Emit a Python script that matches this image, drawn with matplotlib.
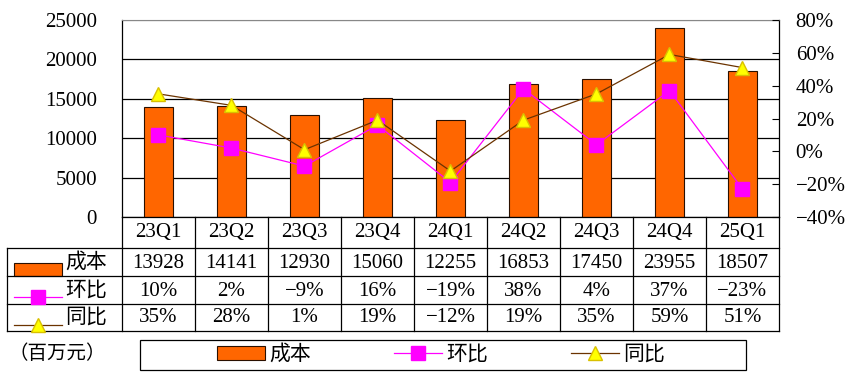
import matplotlib
matplotlib.use("Agg")
import matplotlib.pyplot as plt
import matplotlib.transforms as mtransforms
from matplotlib.lines import Line2D
from matplotlib.patches import Rectangle, Patch

plt.rcParams['font.family'] = ['Liberation Serif', 'Noto Sans CJK SC']
plt.rcParams['font.size'] = 15

quarters = ['23Q1', '23Q2', '23Q3', '23Q4', '24Q1', '24Q2', '24Q3', '24Q4', '25Q1']
cost = [13928, 14141, 12930, 15060, 12255, 16853, 17450, 23955, 18507]
qoq = [10, 2, -9, 16, -19, 38, 4, 37, -23]    # 环比 %
yoy = [35, 28, 1, 19, -12, 19, 35, 59, 51]    # 同比 %

W, H = 854, 392
BAR_C = '#FF6600'
QOQ_C = '#FF00FF'
YOY_C = '#6B3300'
TRI_C = '#FFFF00'
TRI_MS = 10


def fx(px):
    return px / W


def fy(py):
    return 1 - py / H


def pct(v):
    return f'{v:.0f}%'.replace('-', '\u2212')


fig = plt.figure(figsize=(W / 100, H / 100), dpi=100)
ax = fig.add_axes([fx(122), fy(217), fx(779 - 122), (217 - 20) / H])

x = list(range(len(quarters)))
ax.bar(x, cost, width=0.4, color=BAR_C, edgecolor='#2a1000', lw=0.8, zorder=2)
ax.set_xlim(-0.5, len(quarters) - 0.5)
ax.set_ylim(0, 25000)
ax.set_yticks(range(0, 25001, 5000))
ax.set_xticks([])
ax.yaxis.grid(True, color='black', lw=0.9)
ax.get_ygridlines()[-1].set_color('#888888')
ax.set_axisbelow(True)
ax.tick_params(axis='y', length=0, pad=18, labelsize=15)
ax.spines['top'].set_color('#888888')
for s in ['left', 'bottom', 'right']:
    ax.spines[s].set_color('black')
    ax.spines[s].set_linewidth(0.9)

ax2 = ax.twinx()
ax2.plot(x, qoq, color=QOQ_C, lw=0.9, marker='s', ms=10, mfc=QOQ_C, mec=QOQ_C, zorder=3)
ax2.plot(x, yoy, color=YOY_C, lw=0.9, marker='^', ms=TRI_MS, mfc=TRI_C, mec='#D9C000', zorder=4)
ax2.set_ylim(-40, 80)
ax2.set_yticks(range(-40, 81, 20))
ax2.set_yticklabels([pct(v) for v in range(-40, 81, 20)])
ax2.tick_params(axis='y', direction='in', length=5, pad=12, labelsize=15, color='black')
for s in ax2.spines.values():
    s.set_visible(False)

# data table under the chart
bt = mtransforms.blended_transform_factory(ax.transData, fig.transFigure)
ft = fig.transFigure
lw = 0.9
row_y = [217, 248, 276, 304, 331]
fig.add_artist(Line2D([fx(7), fx(779)], [fy(248), fy(248)], color='black', lw=lw, transform=ft))
for yy in row_y[2:]:
    fig.add_artist(Line2D([fx(7), fx(779)], [fy(yy), fy(yy)], color='black', lw=lw, transform=ft))
fig.add_artist(Line2D([fx(7), fx(7)], [fy(248), fy(331)], color='black', lw=lw, transform=ft))
for i in range(len(quarters) + 1):
    b = i - 0.5
    fig.add_artist(Line2D([b, b], [fy(217), fy(331)], color='black', lw=lw, transform=bt))

for i, q in enumerate(quarters):
    fig.text(i, fy(233), q, transform=bt, ha='center', va='center', fontsize=15)
    fig.text(i, fy(263), str(cost[i]), transform=bt, ha='center', va='center', fontsize=15)
    fig.text(i, fy(291), pct(qoq[i]), transform=bt, ha='center', va='center', fontsize=15)
    fig.text(i, fy(318), pct(yoy[i]), transform=bt, ha='center', va='center', fontsize=15)

# row keys
fig.add_artist(Rectangle((fx(14), fy(276)), fx(48), 13 / H, facecolor=BAR_C,
                         edgecolor='#2a1000', lw=0.8, transform=ft))
fig.text(fx(65), fy(263), '成本', ha='left', va='center', fontsize=15)
fig.add_artist(Line2D([fx(14), fx(62)], [fy(297), fy(297)], color=QOQ_C, lw=0.9, transform=ft))
fig.add_artist(Line2D([fx(38)], [fy(297)], marker='s', ms=10, mfc=QOQ_C, mec=QOQ_C,
                      transform=ft))
fig.text(fx(65), fy(291), '环比', ha='left', va='center', fontsize=15)
fig.add_artist(Line2D([fx(14), fx(62)], [fy(325), fy(325)], color=YOY_C, lw=0.9, transform=ft))
fig.add_artist(Line2D([fx(38)], [fy(325)], marker='^', ms=TRI_MS, mfc=TRI_C, mec='#D9C000',
                      transform=ft))
fig.text(fx(65), fy(318), '同比', ha='left', va='center', fontsize=15)

fig.text(fx(8), fy(354), '（百万元）', ha='left', va='center', fontsize=14)

# legend
fig.add_artist(Rectangle((fx(140), fy(370)), fx(606), 30 / H, facecolor='none',
                         edgecolor='black', lw=0.9, transform=ft))
handles = [
    Patch(facecolor=BAR_C, edgecolor='#2a1000', lw=0.8),
    Line2D([], [], color=QOQ_C, lw=0.9, marker='s', ms=10, mfc=QOQ_C, mec=QOQ_C),
    Line2D([], [], color=YOY_C, lw=0.9, marker='^', ms=TRI_MS, mfc=TRI_C, mec='#D9C000'),
]
fig.legend(handles, ['成本', '环比', '同比'], loc='center', bbox_to_anchor=(fx(441), fy(355)),
           ncol=3, frameon=False, fontsize=15, handlelength=2.3, handleheight=0.65,
           handletextpad=0.2, columnspacing=4.0, borderpad=0)

fig.savefig('out.png', dpi=100)
